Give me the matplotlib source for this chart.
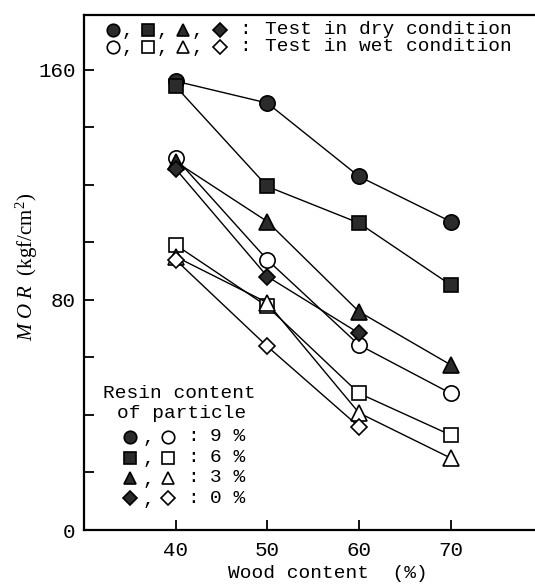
import matplotlib
matplotlib.use('Agg')
import matplotlib.pyplot as plt

plt.rcParams['font.family'] = ['Liberation Mono', 'DejaVu Sans']
plt.rcParams['mathtext.fontset'] = 'custom'
plt.rcParams['mathtext.rm'] = 'Liberation Serif'
plt.rcParams['mathtext.it'] = 'Liberation Serif:italic'

# Data
wood = [40, 50, 60, 70]
resin_labels = ['9 %', '6 %', '3 %', '0 %']
dry_9 = [156.0, 148.4, 122.9, 107.2]
dry_6 = [154.2, 119.4, 106.7, 85.2]
dry_3 = [128.0, 107.2, 75.9, 57.4]
dry_0 = [125.5, 88.1, 68.4]
wet_9 = [129.3, 93.9, 64.3, 47.5]
wet_6 = [99.1, 77.7, 47.5, 33.0]
wet_3 = [95.0, 79.0, 40.7, 25.0]
wet_0 = [93.9, 63.8, 35.9]
y_ticks = [0, 80, 160]
x_ticks = [40, 50, 60, 70]

fig = plt.figure(figsize=(5.35, 5.85), dpi=100)
ax = fig.add_axes([84/535, 55/585, (535-84)/535, 515/585])

dark = '#2b2b2b'
markers = ['o', 's', '^', 'D']
sizes = [11, 10, 11, 8]
dry = [dry_9, dry_6, dry_3, dry_0]
wet = [wet_9, wet_6, wet_3, wet_0]
for vals, m, ms in zip(wet, markers, sizes):
    ax.plot(wood[:len(vals)], vals, color='black', lw=1.0, marker=m, ms=ms,
            mfc='white', mec='black', mew=1.2, zorder=3)
for vals, m, ms in zip(dry, markers, sizes):
    ax.plot(wood[:len(vals)], vals, color='black', lw=1.0, marker=m, ms=ms,
            mfc=dark, mec='black', mew=1.2, zorder=4)

ax.set_xlim(30, 79.2)
ax.set_ylim(0, 179)
ax.set_xticks(x_ticks)
ax.set_xticklabels([str(v) for v in x_ticks])
ax.set_yticks(y_ticks)
ax.set_yticklabels([str(v) for v in y_ticks])
ax.set_yticks(range(0, 180, 20), minor=True)
ax.tick_params(axis='both', which='both', direction='in', length=7, width=1.3, labelsize=15)
ax.tick_params(axis='y', which='minor', length=7)
ax.tick_params(axis='x', pad=8)
ax.tick_params(axis='y', pad=6)
ax.spines['right'].set_visible(False)
for s in ['left', 'bottom', 'top']:
    ax.spines[s].set_linewidth(1.6)

ax.set_ylabel(r'$\mathit{M\ O\ R}$  (kgf/cm$^{2}$)', fontsize=15, fontfamily='Liberation Serif')
ax.yaxis.set_label_coords(-0.098, 0.511)
ax.set_xlabel('Wood content  (%)', fontsize=14)
ax.xaxis.set_label_coords(0.541, -0.068)

tr = ax.transAxes
leg_ms = 9

# top legend: marker symbols + text
top_rows = [(0.971, dark, 'Test in dry condition'), (0.938, 'white', 'Test in wet condition')]
sym_x = [0.064, 0.142, 0.220, 0.302]
for y, fc, txt in top_rows:
    for j, (x, m) in enumerate(zip(sym_x, markers)):
        ax.plot([x], [y], marker=m, ms=leg_ms if m != 'D' else 7, mfc=fc, mec='black',
                mew=1.2, transform=tr, clip_on=False, zorder=5)
        if j < 3:
            ax.text(x + 0.032, y - 0.004, ',', transform=tr, fontsize=14, va='center', ha='center')
    ax.text(0.357, y, ':', transform=tr, fontsize=14, va='center', ha='center')
    ax.text(0.401, y, txt, transform=tr, fontsize=14, va='center', ha='left')

# lower-left legend
ax.text(0.042, 0.266, 'Resin content', transform=tr, fontsize=14, va='center', ha='left')
ax.text(0.073, 0.227, 'of particle', transform=tr, fontsize=14, va='center', ha='left')
row_y = [0.181, 0.140, 0.101, 0.062]
for y, m, lab in zip(row_y, markers, resin_labels):
    ms = leg_ms if m != 'D' else 7
    ax.plot([0.102], [y], marker=m, ms=ms, mfc=dark, mec='black', mew=1.2,
            transform=tr, clip_on=False, zorder=5)
    ax.text(0.142, y - 0.004, ',', transform=tr, fontsize=14, va='center', ha='center')
    ax.plot([0.186], [y], marker=m, ms=ms, mfc='white', mec='black', mew=1.2,
            transform=tr, clip_on=False, zorder=5)
    ax.text(0.242, y, ':', transform=tr, fontsize=14, va='center', ha='center')
    ax.text(0.279, y, lab, transform=tr, fontsize=14, va='center', ha='left')

fig.savefig('out.png', dpi=100)
